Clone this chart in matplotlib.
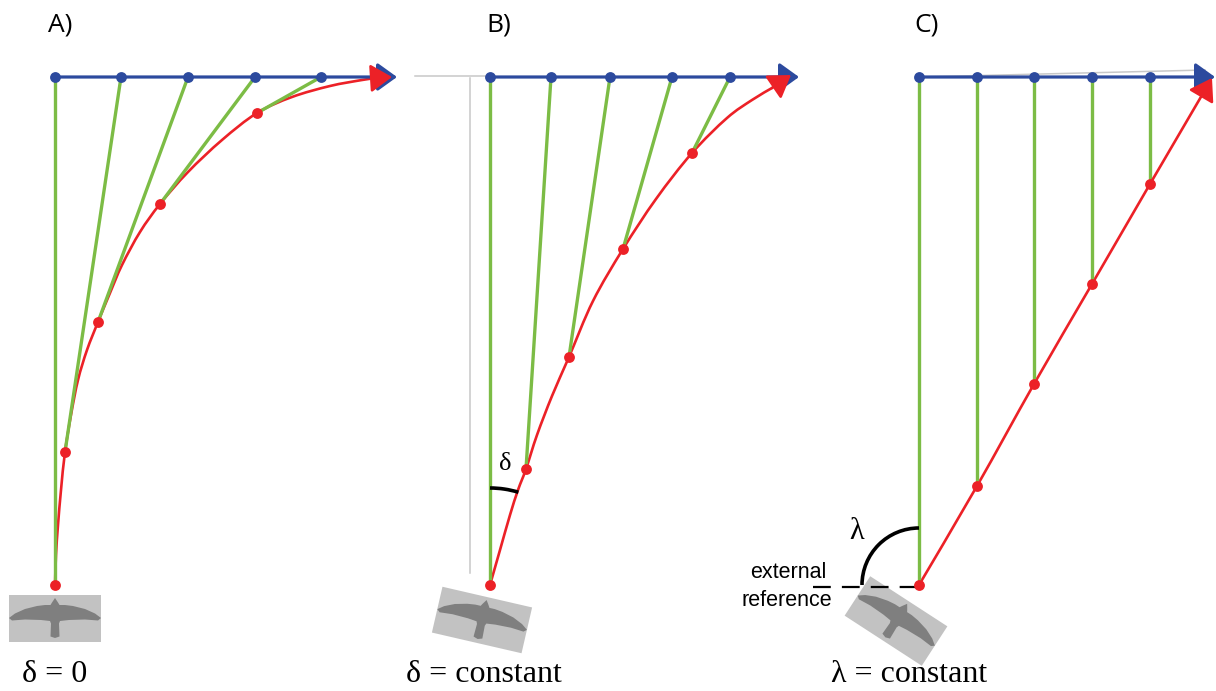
import matplotlib
matplotlib.use("Agg")
import matplotlib.pyplot as plt
from matplotlib.patches import Polygon, Rectangle, Arc, PathPatch
from matplotlib.path import Path
from matplotlib.transforms import Affine2D

# ---------------- data (pixel coordinates) ----------------
panel_labels = ["A)", "B)", "C)"]
label_x = [48, 486, 914]

# Panel A  (delta = 0)
blue_a_x = [55, 121, 188, 255, 321]
red_a_x = [55, 65, 98, 160, 257]
red_a_y = [585, 452, 322, 204, 113]
curve_a_x = [55, 56, 58, 61, 65, 71, 78, 87, 98, 110, 122, 140, 160, 188, 222, 257, 292, 330, 362, 376]
curve_a_y = [585, 555, 525, 490, 452, 415, 380, 350, 322, 293, 265, 232, 204, 172, 140, 113, 97, 86, 80, 78]
tip_a = (392, 77)
blue_tip_a = (397, 77)

# Panel B  (delta = constant)
blue_b_x = [490, 551, 610, 672, 730]
red_b_x = [490, 526, 569, 623, 692]
red_b_y = [585, 469, 357, 249, 153]
curve_b_x = [490, 500, 510, 518, 526, 537, 552, 569, 593, 623, 656, 692, 727, 752, 772]
curve_b_y = [585, 550, 515, 490, 469, 435, 396, 357, 301, 249, 199, 153, 118, 100, 88]
tip_b = (791, 75)
blue_tip_b = (799, 77)

# Panel C  (lambda = constant)
blue_c_x = [919, 977, 1034, 1092, 1150]
red_c_x = [919, 977, 1034, 1092, 1150]
red_c_y = [585, 486, 384, 284, 184]
tip_c = (1212, 78)
blue_tip_c = (1215, 77)

blue_y = 77
bottom_texts = ["δ = 0", "δ = constant", "λ = constant"]
bottom_x = [22, 406, 831]

# ---------------- styles ----------------
BLUE = "#2c4a9e"
GREEN = "#7cbc45"
RED = "#ec2127"
GRAY = "#c8c8c8"
BIRD_BG = "#c2c2c2"
BIRD = "#7f7f7f"

fig = plt.figure(figsize=(12.16, 6.91), dpi=100)
ax = fig.add_axes([0, 0, 1, 1])
ax.set_xlim(0, 1216)
ax.set_ylim(691, 0)
ax.axis("off")

bird_shape = [(0, -20.5), (3, -16), (4.5, -13.5), (10, -13.5), (18, -12.5), (30, -9.5), (40, -5),
              (46, -0.5), (43, 2), (30, 1), (14, 1.5), (5, 2.5), (4, 5), (4.5, 18),
              (0, 19.5), (-4.5, 18), (-4, 5), (-5, 2.5), (-14, 1.5), (-30, 1), (-43, 2),
              (-46, -0.5), (-40, -5), (-30, -9.5), (-18, -12.5), (-10, -13.5), (-4.5, -13.5),
              (-3, -16)]


def draw_bird(cx, cy, angle):
    tr = Affine2D().rotate_deg(angle).translate(cx, cy) + ax.transData
    ax.add_patch(Rectangle((-46, -23.5), 92, 47, facecolor=BIRD_BG, edgecolor="none",
                           transform=tr, zorder=1))
    ax.add_patch(Polygon(bird_shape, closed=True, facecolor=BIRD, edgecolor="none",
                         transform=tr, zorder=1.1))


def smooth_curve(xs, ys, color, lw, z):
    pts = list(zip(xs, ys))
    verts = [pts[0]]
    codes = [Path.MOVETO]
    n = len(pts)
    for i in range(n - 1):
        p0 = pts[i - 1] if i > 0 else pts[i]
        p1 = pts[i]
        p2 = pts[i + 1]
        p3 = pts[i + 2] if i + 2 < n else pts[i + 1]
        c1 = (p1[0] + (p2[0] - p0[0]) / 6, p1[1] + (p2[1] - p0[1]) / 6)
        c2 = (p2[0] - (p3[0] - p1[0]) / 6, p2[1] - (p3[1] - p1[1]) / 6)
        verts += [c1, c2, p2]
        codes += [Path.CURVE4] * 3
    ax.add_patch(PathPatch(Path(verts, codes), fill=False, edgecolor=color, lw=lw,
                           zorder=z, capstyle="round"))


def arrow(start, end, color, hl, hw, ms, lw, z):
    ax.annotate("", xy=end, xytext=start,
                arrowprops=dict(arrowstyle=f"-|>,head_length={hl},head_width={hw}",
                                color=color, lw=lw, mutation_scale=ms,
                                shrinkA=0, shrinkB=0),
                zorder=z)


def panel(blue_x, red_x, red_y, cx, cy, tip, blue_tip):
    # red trajectory
    smooth_curve(cx, cy, RED, 1.9, 2)
    arrow((cx[-1], cy[-1]), tip, RED, 1.1, 0.72, 12, 1.9, 6)
    # green lines of sight
    for bx, rx, ry in zip(blue_x, red_x, red_y):
        ax.plot([bx, rx], [blue_y, ry], color=GREEN, lw=2.4, zorder=3, solid_capstyle="butt")
    # blue target path
    arrow((blue_x[0], blue_y), blue_tip, BLUE, 1.0, 0.72, 12, 2.3, 4)
    ax.plot(blue_x, [blue_y] * len(blue_x), "o", color=BLUE, ms=7.8, zorder=5, mec="none")
    ax.plot(red_x, red_y, "o", color=RED, ms=7.8, zorder=7, mec="none")


# Panel A
panel(blue_a_x, red_a_x, red_a_y, curve_a_x, curve_a_y, tip_a, blue_tip_a)
draw_bird(55, 618.5, 0)

# Panel B
ax.plot([415, 490], [76, 76], color=GRAY, lw=1.1, zorder=1.5)
ax.plot([470, 470], [78, 573], color=GRAY, lw=1.1, zorder=1.5)
panel(blue_b_x, red_b_x, red_b_y, curve_b_x, curve_b_y, tip_b, blue_tip_b)
draw_bird(482, 620, 13)
ax.add_patch(Arc((490, 585), 194, 194, theta1=270, theta2=287, color="black", lw=2.6, zorder=8))
ax.text(505, 470, "δ", fontsize=19, family="Liberation Serif", ha="center", va="baseline")

# Panel C
ax.plot([919, 1205], [77, 70], color=GRAY, lw=1.1, zorder=1.5)
panel(blue_c_x, red_c_x, red_c_y, red_c_x, red_c_y, tip_c, blue_tip_c)
draw_bird(896, 621, 33)
ax.plot([813, 919], [587, 587], color="black", lw=1.6, dashes=(8, 5), zorder=1.6)
ax.add_patch(Arc((919, 585), 114, 114, theta1=180, theta2=270, color="black", lw=2.6, zorder=8))
ax.text(857, 539, "λ", fontsize=22, family="Liberation Serif", ha="center", va="baseline")
ax.text(788, 578, "external", fontsize=15.5, family="Liberation Sans", ha="center", va="baseline")
ax.text(787, 606, "reference", fontsize=15.5, family="Liberation Sans", ha="center", va="baseline")

# labels
for lab, lx in zip(panel_labels, label_x):
    ax.text(lx, 31, lab, fontsize=19, family="Open Sans", ha="left", va="baseline")
for t, bx in zip(bottom_texts, bottom_x):
    ax.text(bx, 682, t, fontsize=23, family="Liberation Serif", ha="left", va="baseline")

fig.savefig("out.png", dpi=100)
